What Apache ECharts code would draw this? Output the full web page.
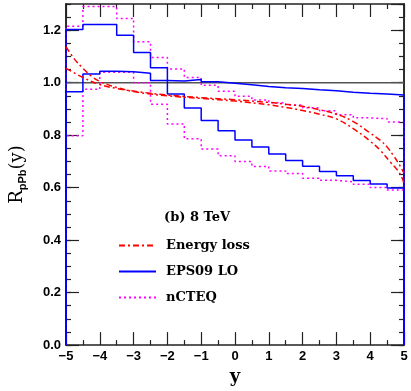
<!DOCTYPE html>
<html><head><meta charset="utf-8">
<script src="https://cdn.jsdelivr.net/npm/echarts@6/dist/echarts.min.js"></script>
<style>html,body{margin:0;padding:0;background:#fff}#c{width:411px;height:391px}</style>
</head><body><div id="c"></div>
<script>
// Bin left edges (bins of width 0.5 from -5 to 5)
const binEdges = [-5,-4.5,-4,-3.5,-3,-2.5,-2,-1.5,-1,-0.5,0,0.5,1,1.5,2,2.5,3,3.5,4,4.5];
const xMax = 5;
// EPS09 LO band edges
const eps09A = [1.203,1.222,1.222,1.181,1.115,1.057,0.957,0.904,0.856,0.817,0.782,0.755,0.728,0.704,0.682,0.662,0.645,0.627,0.614,0.599];
const eps09B = [0.966,1.033,1.044,1.042,1.036,1.008,1.007,1.012,1.004,0.998,0.992,0.986,0.981,0.978,0.973,0.969,0.964,0.960,0.957,0.953];
// nCTEQ band edges
const ncteqC = [1.215,1.290,1.290,1.245,1.156,1.096,1.052,1.020,0.990,0.967,0.948,0.934,0.924,0.915,0.905,0.893,0.878,0.866,0.863,0.850];
const ncteqD = [0.798,0.975,1.040,1.040,1.000,0.918,0.843,0.786,0.747,0.722,0.700,0.681,0.664,0.654,0.636,0.628,0.622,0.613,0.601,0.591];
// Energy loss curves
const elossX1 = [-5,-4.75,-4.5,-4.25,-4,-3.5,-3,-2.5,-2,-1,0,1,1.5,2,2.5,3,3.5,4,4.3,4.6,4.8,4.95,5];
const elossY1 = [1.137,1.090,1.055,1.025,1.005,0.982,0.966,0.957,0.950,0.940,0.930,0.916,0.906,0.894,0.880,0.862,0.825,0.777,0.742,0.697,0.668,0.635,0.613];
const elossX2 = [-5,-4.5,-4,-3.5,-3,-2.5,-2,-1,0,1,1.5,2,2.5,3,3.5,4,4.3,4.5,4.7,4.85,5];
const elossY2 = [1.055,1.020,0.993,0.978,0.968,0.960,0.953,0.943,0.935,0.925,0.918,0.910,0.897,0.880,0.852,0.808,0.780,0.755,0.720,0.690,0.655];
const refLine = 1.0;

function hist(vals){
  const d = [[binEdges[0], 0]];
  vals.forEach((v,i)=>d.push([binEdges[i], v]));
  d.push([xMax, 0]);
  return d;
}
function curve(xs, ys){ return xs.map((x,i)=>[x, ys[i]]); }

const AX = '#222';
const tickFont = {fontFamily:'Liberation Sans', fontWeight:'bold', fontSize:13, color:'#000'};
const red = {color:'#ff0000', width:1.5, type:[6,3,2,3]};
const blue = {color:'#0000ff', width:1.5, type:'solid'};
const mag = {color:'#ff00ff', width:1.5, type:[2,3]};

function yAx(pos, interval, len, labels, extra){
  return Object.assign({
    type:'value', min:0, max:1.3, interval:interval, position:pos, offset:0,
    axisLine:{show:true, onZero:false, lineStyle:{color:AX, width:1.5}},
    axisTick:{show:true, inside:true, length:len, lineStyle:{color:AX, width:1.2}},
    axisLabel:labels ? Object.assign({show:true, margin:5, showMaxLabel:false, formatter:v=>v.toFixed(1)}, tickFont) : {show:false},
    splitLine:{show:false}
  }, extra||{});
}
function xAx(pos, labels, extra){
  return Object.assign({
    type:'value', min:-5, max:5, interval:1, position:pos,
    axisLine:{show:true, onZero:false, lineStyle:{color:AX, width:1.5}},
    axisTick:{show:true, inside:true, length:13, lineStyle:{color:AX, width:1.2}},
    minorTick:{show:true, splitNumber:2, length:5, lineStyle:{color:AX, width:1.2}},
    axisLabel:labels ? Object.assign({show:true, margin:5, formatter:v=>String(v).replace('-', '\u2212')}, tickFont) : {show:false},
    splitLine:{show:false}
  }, extra||{});
}

const hiddenSym = {opacity:0};
const chart = echarts.init(document.getElementById('c'), null, {renderer:'canvas'});
chart.setOption({
  animation:false,
  backgroundColor:'#fff',
  grid:{left:63, right:7, top:4, bottom:45, containLabel:false},
  title:{text:'(b) 8 TeV', left:159, top:206, textStyle:{fontFamily:'DejaVu Serif', fontWeight:'bold', fontSize:13, color:'#000'}},
  legend:{
    data:[
      {name:'Energy loss', itemStyle:hiddenSym},
      {name:'EPS09 LO', itemStyle:hiddenSym},
      {name:'nCTEQ', itemStyle:hiddenSym}
    ],
    orient:'vertical', left:113, top:234,
    itemWidth:37, itemHeight:14, itemGap:13,
    textStyle:{fontFamily:'DejaVu Serif', fontWeight:'bold', fontSize:13, color:'#000', padding:[0,0,0,5]}
  },
  xAxis:[
    xAx('bottom', true, {name:'y', nameLocation:'middle', nameGap:21,
      nameTextStyle:{fontFamily:'DejaVu Serif', fontWeight:'bold', fontSize:18, color:'#000'}}),
    xAx('top', false)
  ],
  yAxis:[
    yAx('left', 0.2, 13, true, {
      name:'{r|R}{s|pPb}{r|(y)}', nameLocation:'middle', nameRotate:90, nameGap:38,
      nameTextStyle:{rich:{
        r:{fontFamily:'DejaVu Serif', fontSize:18, color:'#000', verticalAlign:'middle', lineHeight:22},
        s:{fontFamily:'Liberation Sans', fontWeight:'bold', fontSize:11, color:'#000', verticalAlign:'bottom', lineHeight:22, padding:[9,0,0,0]}
      }}
    }),
    yAx('left', 0.05, 5, false),
    yAx('right', 0.2, 13, false),
    yAx('right', 0.05, 5, false)
  ],
  series:[
    {type:'line', name:'ref', data:[[-5,refLine],[5,refLine]], symbol:'none', silent:true,
      lineStyle:{color:'#555', width:1.5}, z:1},
    {type:'line', name:'nCTEQ', data:hist(ncteqC), step:'end', symbol:'none', itemStyle:{color:'#ff00ff'}, lineStyle:mag, z:2},
    {type:'line', name:'nCTEQ', data:hist(ncteqD), step:'end', symbol:'none', itemStyle:{color:'#ff00ff'}, lineStyle:mag, z:2},
    {type:'line', name:'EPS09 LO', data:hist(eps09A), step:'end', symbol:'none', itemStyle:{color:'#0000ff'}, lineStyle:blue, z:3},
    {type:'line', name:'EPS09 LO', data:hist(eps09B), step:'end', symbol:'none', itemStyle:{color:'#0000ff'}, lineStyle:blue, z:3},
    {type:'line', name:'Energy loss', data:curve(elossX1, elossY1), smooth:0.4, symbol:'none', itemStyle:{color:'#ff0000'}, lineStyle:red, z:4},
    {type:'line', name:'Energy loss', data:curve(elossX2, elossY2), smooth:0.4, symbol:'none', itemStyle:{color:'#ff0000'}, lineStyle:red, z:4}
  ]
});
</script></body></html>
